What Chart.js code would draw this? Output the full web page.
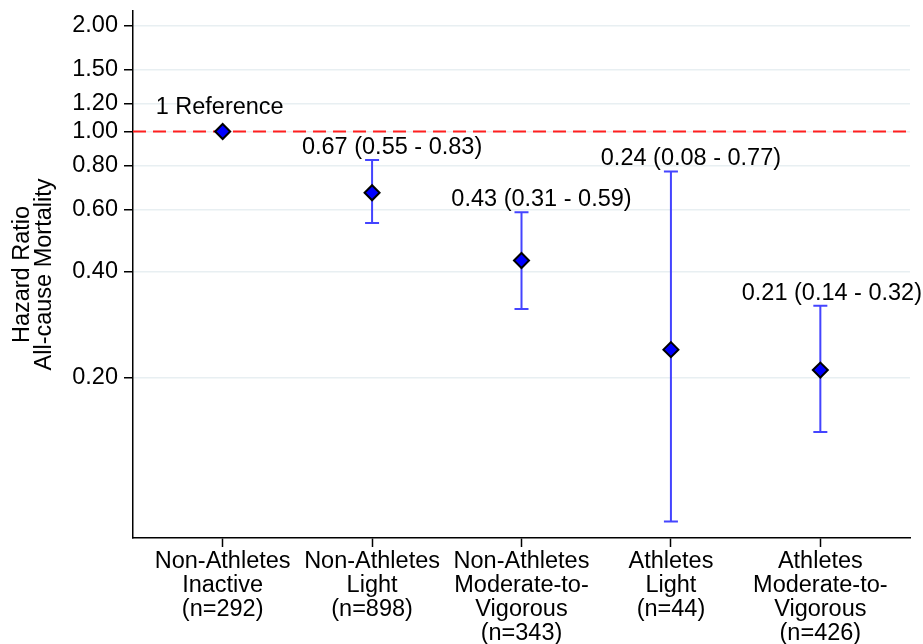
<!DOCTYPE html>
<html><head><meta charset="utf-8">
<script src="https://cdn.jsdelivr.net/npm/chart.js@4"></script>
<style>html,body{margin:0;padding:0;background:#fff;overflow:hidden;} canvas{display:block;}</style>
</head><body>
<canvas id="c" width="923" height="644"></canvas>
<script>
// ---- data ----
const categories = [
  ["Non-Athletes", "Inactive", "(n=292)"],
  ["Non-Athletes", "Light", "(n=898)"],
  ["Non-Athletes", "Moderate-to-", "Vigorous", "(n=343)"],
  ["Athletes", "Light", "(n=44)"],
  ["Athletes", "Moderate-to-", "Vigorous", "(n=426)"]
];
const hazardRatio = [1.00, 0.67, 0.43, 0.24, 0.21];
const ciLower = [1.00, 0.55, 0.313, 0.078, 0.14];
const ciUpper = [1.00, 0.83, 0.59, 0.77, 0.32];
const pointLabels = ["1 Reference", "0.67 (0.55 - 0.83)", "0.43 (0.31 - 0.59)", "0.24 (0.08 - 0.77)", "0.21 (0.14 - 0.32)"];
const yTicks = [0.20, 0.40, 0.60, 0.80, 1.00, 1.20, 1.50, 2.00];
const referenceLine = 1.00;

const FONT = '"Liberation Sans", Arial, Helvetica, sans-serif';
const FS = 23.5;
Chart.defaults.font.family = FONT;
Chart.defaults.color = '#000';

const overlay = {
  id: 'overlay',
  beforeDatasetsDraw(chart) {
    const {ctx, chartArea: a, scales: {x, y}} = chart;
    ctx.save();
    const yr = y.getPixelForValue(referenceLine);
    ctx.strokeStyle = '#ff1f1f';
    ctx.lineWidth = 2;
    ctx.setLineDash([13, 7]);
    ctx.beginPath(); ctx.moveTo(a.left, yr); ctx.lineTo(a.right, yr); ctx.stroke();
    ctx.setLineDash([]);
    ctx.strokeStyle = '#4444ff';
    ctx.lineWidth = 2;
    hazardRatio.forEach((v, i) => {
      if (ciLower[i] === ciUpper[i]) return;
      const px = x.getPixelForValue(i);
      const p1 = y.getPixelForValue(ciLower[i]);
      const p2 = y.getPixelForValue(ciUpper[i]);
      ctx.beginPath();
      ctx.moveTo(px, p1); ctx.lineTo(px, p2);
      ctx.moveTo(px - 7, p1); ctx.lineTo(px + 7, p1);
      ctx.moveTo(px - 7, p2); ctx.lineTo(px + 7, p2);
      ctx.stroke();
    });
    ctx.restore();
  },
  afterDatasetsDraw(chart) {
    const {ctx, scales: {x, y}} = chart;
    ctx.save();
    ctx.font = FS + 'px ' + FONT;
    ctx.fillStyle = '#000';
    ctx.textAlign = 'left';
    ctx.textBaseline = 'alphabetic';
    pointLabels.forEach((t, i) => {
      const px = x.getPixelForValue(i);
      const w = ctx.measureText(t).width;
      let cx, by;
      if (ciLower[i] === ciUpper[i]) {
        cx = px - 3; by = y.getPixelForValue(hazardRatio[i]) - 18;
      } else {
        cx = px + 20; by = y.getPixelForValue(ciUpper[i]) - 6;
      }
      let left = cx - w / 2;
      if (left + w > chart.width - 1) left = chart.width - 1 - w;
      ctx.fillText(t, left, by);
    });
    ctx.restore();
  }
};

new Chart(document.getElementById('c'), {
  type: 'scatter',
  data: {
    datasets: [{
      data: hazardRatio.map((v, i) => ({x: i, y: v})),
      pointStyle: 'rectRot',
      pointRadius: 7.5,
      pointHoverRadius: 7.5,
      backgroundColor: '#0000ff',
      borderColor: '#000',
      borderWidth: 2,
      showLine: false
    }]
  },
  options: {
    responsive: false,
    animation: false,
    devicePixelRatio: 1,
    layout: {padding: {top: 11, right: 13, left: 0, bottom: 0}},
    plugins: {legend: {display: false}, tooltip: {enabled: false}},
    scales: {
      x: {
        type: 'linear', min: -0.6, max: 4.6,
        afterBuildTicks: s => { s.ticks = categories.map((c, i) => ({value: i})); },
        afterFit: s => { s.height = 106; s.paddingLeft = 0; s.paddingRight = 0; },
        grid: {drawOnChartArea: false, drawTicks: true, tickLength: 9, tickColor: '#000', tickWidth: 1.5},
        border: {display: true, color: '#000', width: 1.5},
        ticks: {autoSkip: false, maxRotation: 0, minRotation: 0, padding: 3, color: '#000',
          font: {size: FS, lineHeight: 1.02}, callback: v => categories[v]}
      },
      y: {
        type: 'logarithmic', min: 0.07, max: 2.2,
        afterBuildTicks: s => { s.ticks = yTicks.map(v => ({value: v})); },
        afterFit: s => { s.width = 133; s.paddingTop = 0; s.paddingBottom = 0; },
        grid: {color: '#e8eff2', lineWidth: 1.5, drawTicks: true, tickLength: 9, tickColor: '#000', tickWidth: 1.5},
        border: {display: true, color: '#000', width: 1.5},
        ticks: {padding: 6, color: '#000', font: {size: FS}, callback: v => Number(v).toFixed(2)},
        title: {display: true, text: ['Hazard Ratio', 'All-cause Mortality'], color: '#000',
          font: {size: FS, lineHeight: 0.94}, padding: {top: 11, bottom: 0}}
      }
    }
  },
  plugins: [overlay]
});
</script>
</body></html>
